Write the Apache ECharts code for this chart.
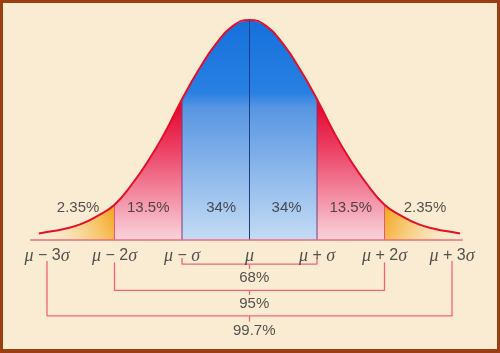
<!DOCTYPE html>
<html>
<head>
<meta charset="utf-8">
<script src="https://cdn.jsdelivr.net/npm/echarts@6.0.0/dist/echarts.min.js"></script>
<style>
html,body{margin:0;padding:0;background:#9b3e12;width:500px;height:353px;overflow:hidden;}
#c{position:absolute;left:3px;top:3px;width:494px;height:346px;background:#faecd3;}
</style>
</head>
<body>
<div id="c"></div>
<script>
// Curve samples (x in sigma units, relative height)
const sigmaX = [-3.12,-3,-2.75,-2.5,-2.25,-2,-1.75,-1.5,-1.25,-1,-0.75,-0.5,-0.25,0,0.25,0.5,0.75,1,1.25,1.5,1.75,2,2.25,2.5,2.75,3,3.12];
const curveY = [0.03,0.036,0.05,0.072,0.11,0.16,0.25,0.36,0.49,0.64,0.775,0.89,0.972,1,0.972,0.89,0.775,0.64,0.49,0.36,0.25,0.16,0.11,0.072,0.05,0.036,0.03];

// Shaded regions
const regionStart = [-3.12,-2,-1,0,1,2];
const regionEnd   = [-2,-1,0,1,2,3.12];
const regionKind  = ['tailL','red','blue','blue','red','tailR'];

// Region percentage labels
const pctX = [-2.54,-1.5,-0.42,0.55,1.5,2.6];
const pctLabels = ['2.35%','13.5%','34%','34%','13.5%','2.35%'];
const pctY = 0.145;

// Divider lines
const dividerX = [-2,-1,0,1,2];

// Axis tick labels
const tickX = [-3,-2,-1,0,1,2,3];
const tickLabels = ['{g|μ} − 3{g|σ}','{g|μ} − 2{g|σ}','{g|μ} − {g|σ}','{g|μ}','{g|μ} + {g|σ}','{g|μ} + 2{g|σ}','{g|μ} + 3{g|σ}'];
const tickLabelY = -0.073;

// Baseline extent
const baseStart = -3.25, baseEnd = 3.16;

// Brackets
const bracketSpan = [1,2,3];
const bracketTop = [-0.082,-0.102,-0.095];
const bracketLevel = [-0.110,-0.229,-0.345];
const bracketTick = [-0.132,-0.25,-0.371];
const bracketLabelY = [-0.173,-0.291,-0.412];
const bracketLabels = ['68%','95%','99.7%'];
const bracketLabelX = 0.07;

const pts = sigmaX.map((x,i)=>[x,curveY[i]]);
function heightAt(x){ return curveY[sigmaX.indexOf(x)]; }

const grads = {
  blue: new echarts.graphic.LinearGradient(0,0,0,1,[
    {offset:0,color:'#1570db'},{offset:0.33,color:'#2880e2'},{offset:0.4,color:'#5896e2'},{offset:1,color:'#c4dbf4'}]),
  red: new echarts.graphic.LinearGradient(0,0,0,1,[
    {offset:0,color:'#e0002a'},{offset:0.35,color:'#ec4064'},{offset:1,color:'#f9d4dc'}]),
  tailL: new echarts.graphic.LinearGradient(0,1,1,0,[
    {offset:0,color:'rgba(250,236,211,0)'},{offset:0.55,color:'rgba(247,200,110,0.7)'},{offset:1,color:'#f3a216'}]),
  tailR: new echarts.graphic.LinearGradient(1,1,0,0,[
    {offset:0,color:'rgba(250,236,211,0)'},{offset:0.55,color:'rgba(247,200,110,0.7)'},{offset:1,color:'#f3a216'}])
};

const series = [];
regionStart.forEach((s,i)=>{
  const e = regionEnd[i];
  series.push({
    type:'line', smooth:true, symbol:'none', silent:true, z:1,
    data: pts.filter(p=>p[0]>=s && p[0]<=e),
    lineStyle:{width:0,opacity:0},
    areaStyle:{color:grads[regionKind[i]],opacity:1}
  });
});
// dividers
const divColor = {'-2':'#e2587a','-1':'#7a3a78','0':'#1c3c86','1':'#7a3a78','2':'#e2587a'};
dividerX.forEach(x=>{
  series.push({type:'line',symbol:'none',silent:true,z:2,
    data:[[x,0],[x,heightAt(x)]],
    lineStyle:{color:divColor[String(x)],width:1}});
});
// baseline
series.push({type:'line',symbol:'none',silent:true,z:2,
  data:[[baseStart,0],[baseEnd,0]],lineStyle:{color:'#f06a7e',width:1.5}});
// curve
series.push({type:'line',smooth:true,symbol:'none',silent:true,z:3,
  data:pts,lineStyle:{color:'#e50f2c',width:2}});
// brackets
bracketSpan.forEach((w,i)=>{
  series.push({type:'line',symbol:'none',silent:true,z:2,
    data:[[-w,bracketTop[i]],[-w,bracketLevel[i]],[w,bracketLevel[i]],[w,bracketTop[i]]],
    lineStyle:{color:'#f26478',width:1.3}});
  series.push({type:'line',symbol:'none',silent:true,z:2,
    data:[[0,bracketLevel[i]],[0,bracketTick[i]]],
    lineStyle:{color:'#f26478',width:1.3}});
});
// labels
const txt = '#2a2a2a';
const labelBase = {type:'scatter',symbolSize:0,silent:true,z:5};
series.push(Object.assign({},labelBase,{
  data:pctX.map((x,i)=>({value:[x,pctY],name:pctLabels[i]})),
  label:{show:true,position:'inside',formatter:p=>p.name,color:txt,fontSize:15,fontFamily:'Liberation Sans, Arial, sans-serif'}
}));
series.push(Object.assign({},labelBase,{
  data:bracketLabelY.map((y,i)=>({value:[bracketLabelX,y],name:bracketLabels[i]})),
  label:{show:true,position:'inside',formatter:p=>p.name,color:txt,fontSize:15,fontFamily:'Liberation Sans, Arial, sans-serif'}
}));
series.push(Object.assign({},labelBase,{
  data:tickX.map((x,i)=>({value:[x,tickLabelY],name:tickLabels[i]})),
  label:{show:true,position:'inside',formatter:p=>p.name,color:txt,fontSize:16,
    fontFamily:'Liberation Sans, Arial, sans-serif',
    rich:{g:{fontStyle:'italic',fontSize:18,color:txt,fontFamily:'Liberation Serif, Times New Roman, serif'}}}
}));

const chart = echarts.init(document.getElementById('c'),null,{renderer:'canvas'});
chart.setOption({
  animation:false,
  grid:{left:10.25,top:17,width:472.5,height:327.8,containLabel:false},
  xAxis:{type:'value',min:-3.5,max:3.5,show:false},
  yAxis:{type:'value',min:-0.49,max:1,show:false},
  series:series
});
</script>
</body>
</html>
